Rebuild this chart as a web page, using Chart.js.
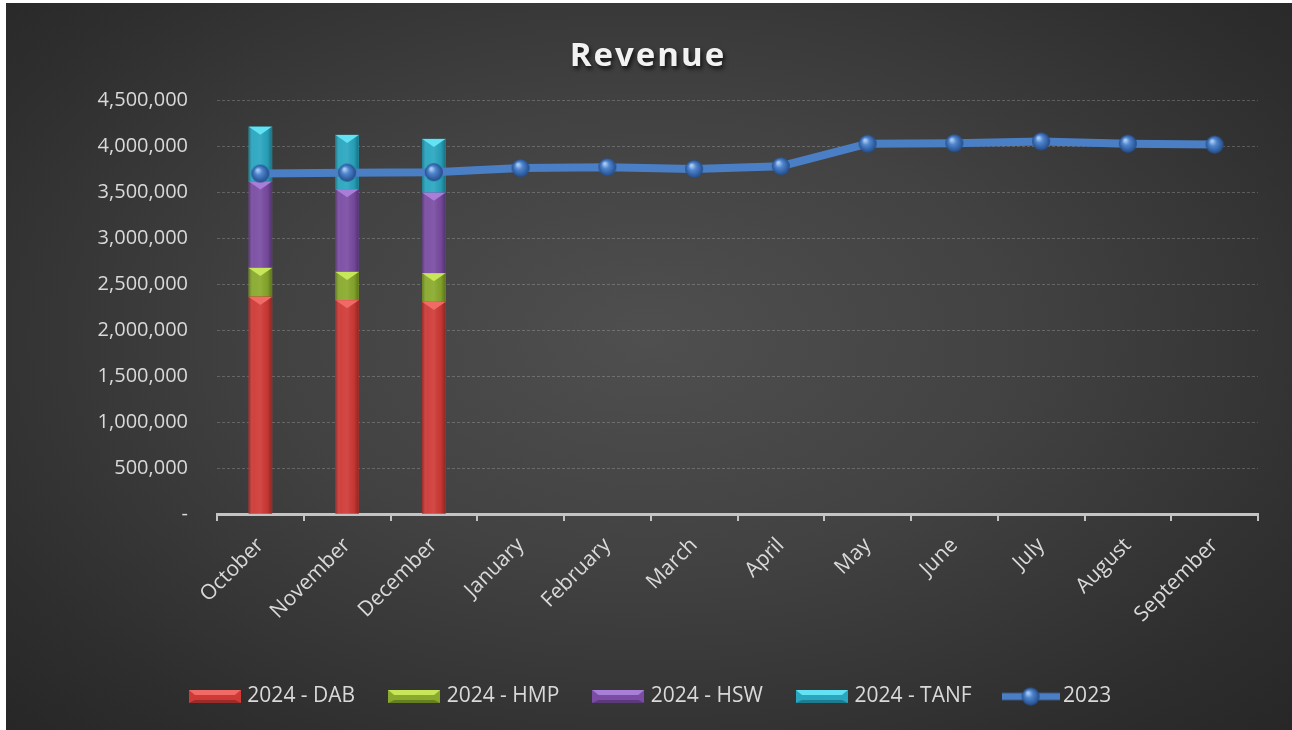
<!DOCTYPE html>
<html>
<head>
<meta charset="utf-8">
<script src="https://cdn.jsdelivr.net/npm/chart.js@4.4.1/dist/chart.umd.min.js"></script>
<style>
  html, body { margin: 0; padding: 0; background: #fff; }
  #wrap {
    position: absolute; left: 6px; top: 3px; width: 1286px; height: 727px;
    background: radial-gradient(ellipse 72% 78% at 50% 46%, #4f4f4f 0%, #424242 40%, #2e2e2e 80%, #262626 100%);
  }
</style>
</head>
<body>
<div id="wrap"><canvas id="chart" width="1286" height="727"></canvas></div>
<script>
const months = ['October', 'November', 'December', 'January', 'February', 'March',
  'April', 'May', 'June', 'July', 'August', 'September'];

const dab2024  = [2360000, 2323000, 2304000, null, null, null, null, null, null, null, null, null];
const hmp2024  = [315000, 308000, 312000, null, null, null, null, null, null, null, null, null];
const hsw2024  = [938000, 899000, 876000, null, null, null, null, null, null, null, null, null];
const tanf2024 = [595000, 590000, 584000, null, null, null, null, null, null, null, null, null];
const rev2023  = [3700000, 3710000, 3715000, 3760000, 3770000, 3750000,
  3780000, 4025000, 4030000, 4050000, 4025000, 4015000];

const FONT = "'Open Sans', 'DejaVu Sans', sans-serif";
const textColor = '#d9d9d9';
const lineBlue = '#4a7fc6';

const barColors = {
  dab:  { main: '#cf3a36', light: '#f06a66' },
  hmp:  { main: '#89aa2c', light: '#c8e65a' },
  hsw:  { main: '#7a4ca3', light: '#a97ed8' },
  tanf: { main: '#29a6c0', light: '#62e2f2' }
};

// glossy sphere used for the line markers
function makeSphere(r) {
  const c = document.createElement('canvas');
  c.width = c.height = r * 2 + 2;
  const g = c.getContext('2d');
  const cx = r + 1, cy = r + 1;
  const grad = g.createRadialGradient(cx - r * 0.3, cy - r * 0.4, 1, cx, cy, r);
  grad.addColorStop(0, '#a9c9f2');
  grad.addColorStop(0.35, '#4f86cf');
  grad.addColorStop(1, '#234c8a');
  g.fillStyle = grad;
  g.beginPath();
  g.arc(cx, cy, r, 0, Math.PI * 2);
  g.fill();
  return c;
}

function makeBarSwatch(col) {
  const c = document.createElement('canvas');
  c.width = 52; c.height = 13;
  const g = c.getContext('2d');
  g.fillStyle = col.main;
  g.fillRect(0, 0, 52, 13);
  g.fillStyle = col.light;
  g.beginPath();
  g.moveTo(0, 0); g.lineTo(52, 0); g.lineTo(46, 5); g.lineTo(6, 5);
  g.closePath(); g.fill();
  g.fillStyle = 'rgba(0,0,0,0.25)';
  g.beginPath();
  g.moveTo(0, 13); g.lineTo(52, 13); g.lineTo(46, 10); g.lineTo(6, 10);
  g.closePath(); g.fill();
  return c;
}

function makeLineSwatch() {
  const c = document.createElement('canvas');
  c.width = 58; c.height = 20;
  const g = c.getContext('2d');
  g.strokeStyle = lineBlue;
  g.lineWidth = 7;
  g.beginPath(); g.moveTo(0, 10); g.lineTo(58, 10); g.stroke();
  g.drawImage(makeSphere(9), 19, 0);
  return c;
}

const sphere = makeSphere(9);
const swatches = [
  makeBarSwatch(barColors.dab), makeBarSwatch(barColors.hmp),
  makeBarSwatch(barColors.hsw), makeBarSwatch(barColors.tanf), makeLineSwatch()
];

// bevel / shading over each bar segment
const barShade = {
  id: 'barShade',
  afterDatasetDraw(chart, args) {
    const meta = args.meta;
    if (meta.type !== 'bar') return;
    const ctx = chart.ctx;
    const light = chart.data.datasets[args.index].bevel;
    ctx.save();
    meta.data.forEach(el => {
      if (el.skip || el.y == null || isNaN(el.y)) return;
      const left = el.x - el.width / 2, right = el.x + el.width / 2;
      const top = Math.min(el.y, el.base), bottom = Math.max(el.y, el.base);
      if (bottom - top < 1) return;
      const grad = ctx.createLinearGradient(left, 0, right, 0);
      grad.addColorStop(0, 'rgba(0,0,0,0.28)');
      grad.addColorStop(0.2, 'rgba(255,255,255,0.04)');
      grad.addColorStop(0.5, 'rgba(255,255,255,0.08)');
      grad.addColorStop(0.8, 'rgba(0,0,0,0.05)');
      grad.addColorStop(1, 'rgba(0,0,0,0.32)');
      ctx.fillStyle = grad;
      ctx.fillRect(left, top, right - left, bottom - top);
      const d = Math.min(8, (bottom - top) / 2);
      ctx.fillStyle = light;
      ctx.beginPath();
      ctx.moveTo(left, top); ctx.lineTo(right, top); ctx.lineTo(el.x, top + d);
      ctx.closePath(); ctx.fill();
    });
    ctx.restore();
  }
};

const titlePlugin = {
  id: 'titleText',
  afterDraw(chart) {
    const ctx = chart.ctx;
    ctx.save();
    ctx.font = `bold 33px ${FONT}`;
    ctx.letterSpacing = '2px';
    ctx.textAlign = 'center';
    ctx.textBaseline = 'alphabetic';
    ctx.shadowColor = 'rgba(0,0,0,0.7)';
    ctx.shadowOffsetX = 2; ctx.shadowOffsetY = 3; ctx.shadowBlur = 4;
    ctx.fillStyle = '#f2f2f2';
    ctx.fillText('Revenue', 642, 63);
    ctx.restore();
  }
};

const barBase = { type: 'bar', stack: 's', barThickness: 23, order: 1, borderWidth: 0 };

new Chart(document.getElementById('chart'), {
  data: {
    labels: months,
    datasets: [
      { ...barBase, label: '2024 - DAB', data: dab2024, backgroundColor: barColors.dab.main, bevel: barColors.dab.light },
      { ...barBase, label: '2024 - HMP', data: hmp2024, backgroundColor: barColors.hmp.main, bevel: barColors.hmp.light },
      { ...barBase, label: '2024 - HSW', data: hsw2024, backgroundColor: barColors.hsw.main, bevel: barColors.hsw.light },
      { ...barBase, label: '2024 - TANF', data: tanf2024, backgroundColor: barColors.tanf.main, bevel: barColors.tanf.light },
      {
        type: 'line', label: '2023', data: rev2023, order: 0,
        borderColor: lineBlue, backgroundColor: lineBlue, borderWidth: 8,
        pointStyle: sphere, pointRadius: 9, tension: 0
      }
    ]
  },
  options: {
    responsive: false,
    animation: false,
    layout: { padding: { top: 97, right: 34, bottom: 13, left: 40 } },
    plugins: {
      title: { display: false },
      tooltip: { enabled: false },
      legend: {
        position: 'bottom',
        labels: {
          color: textColor,
          font: { family: FONT, size: 21 },
          usePointStyle: true,
          pointStyleWidth: 44,
          boxHeight: 13,
          padding: 37,
          sort: (a, b) => a.datasetIndex - b.datasetIndex,
          generateLabels(chart) {
            const items = Chart.defaults.plugins.legend.labels.generateLabels(chart);
            items.forEach(it => { it.pointStyle = swatches[it.datasetIndex]; });
            return items;
          }
        }
      }
    },
    scales: {
      x: {
        stacked: true,
        afterFit(scale) { scale.height = 135; },
        grid: { display: true, drawOnChartArea: false, drawTicks: true, tickLength: 7, color: '#c4c4c4', lineWidth: 2, offset: true },
        border: { display: true, color: '#c4c4c4', width: 3 },
        ticks: { color: textColor, font: { family: FONT, size: 21 }, minRotation: 45, maxRotation: 45, padding: 12 }
      },
      y: {
        stacked: true,
        min: 0, max: 4500000,
        afterFit(scale) { scale.width = 171; },
        border: { display: false, dash: [3, 2] },
        grid: { color: 'rgba(255,255,255,0.2)', lineWidth: 1, drawTicks: false },
        ticks: {
          stepSize: 500000, padding: 29, color: textColor,
          font: { family: FONT, size: 20 },
          callback: v => v === 0 ? '-' : v.toLocaleString('en-US')
        }
      }
    }
  },
  plugins: [barShade, titlePlugin]
});
</script>
</body>
</html>
